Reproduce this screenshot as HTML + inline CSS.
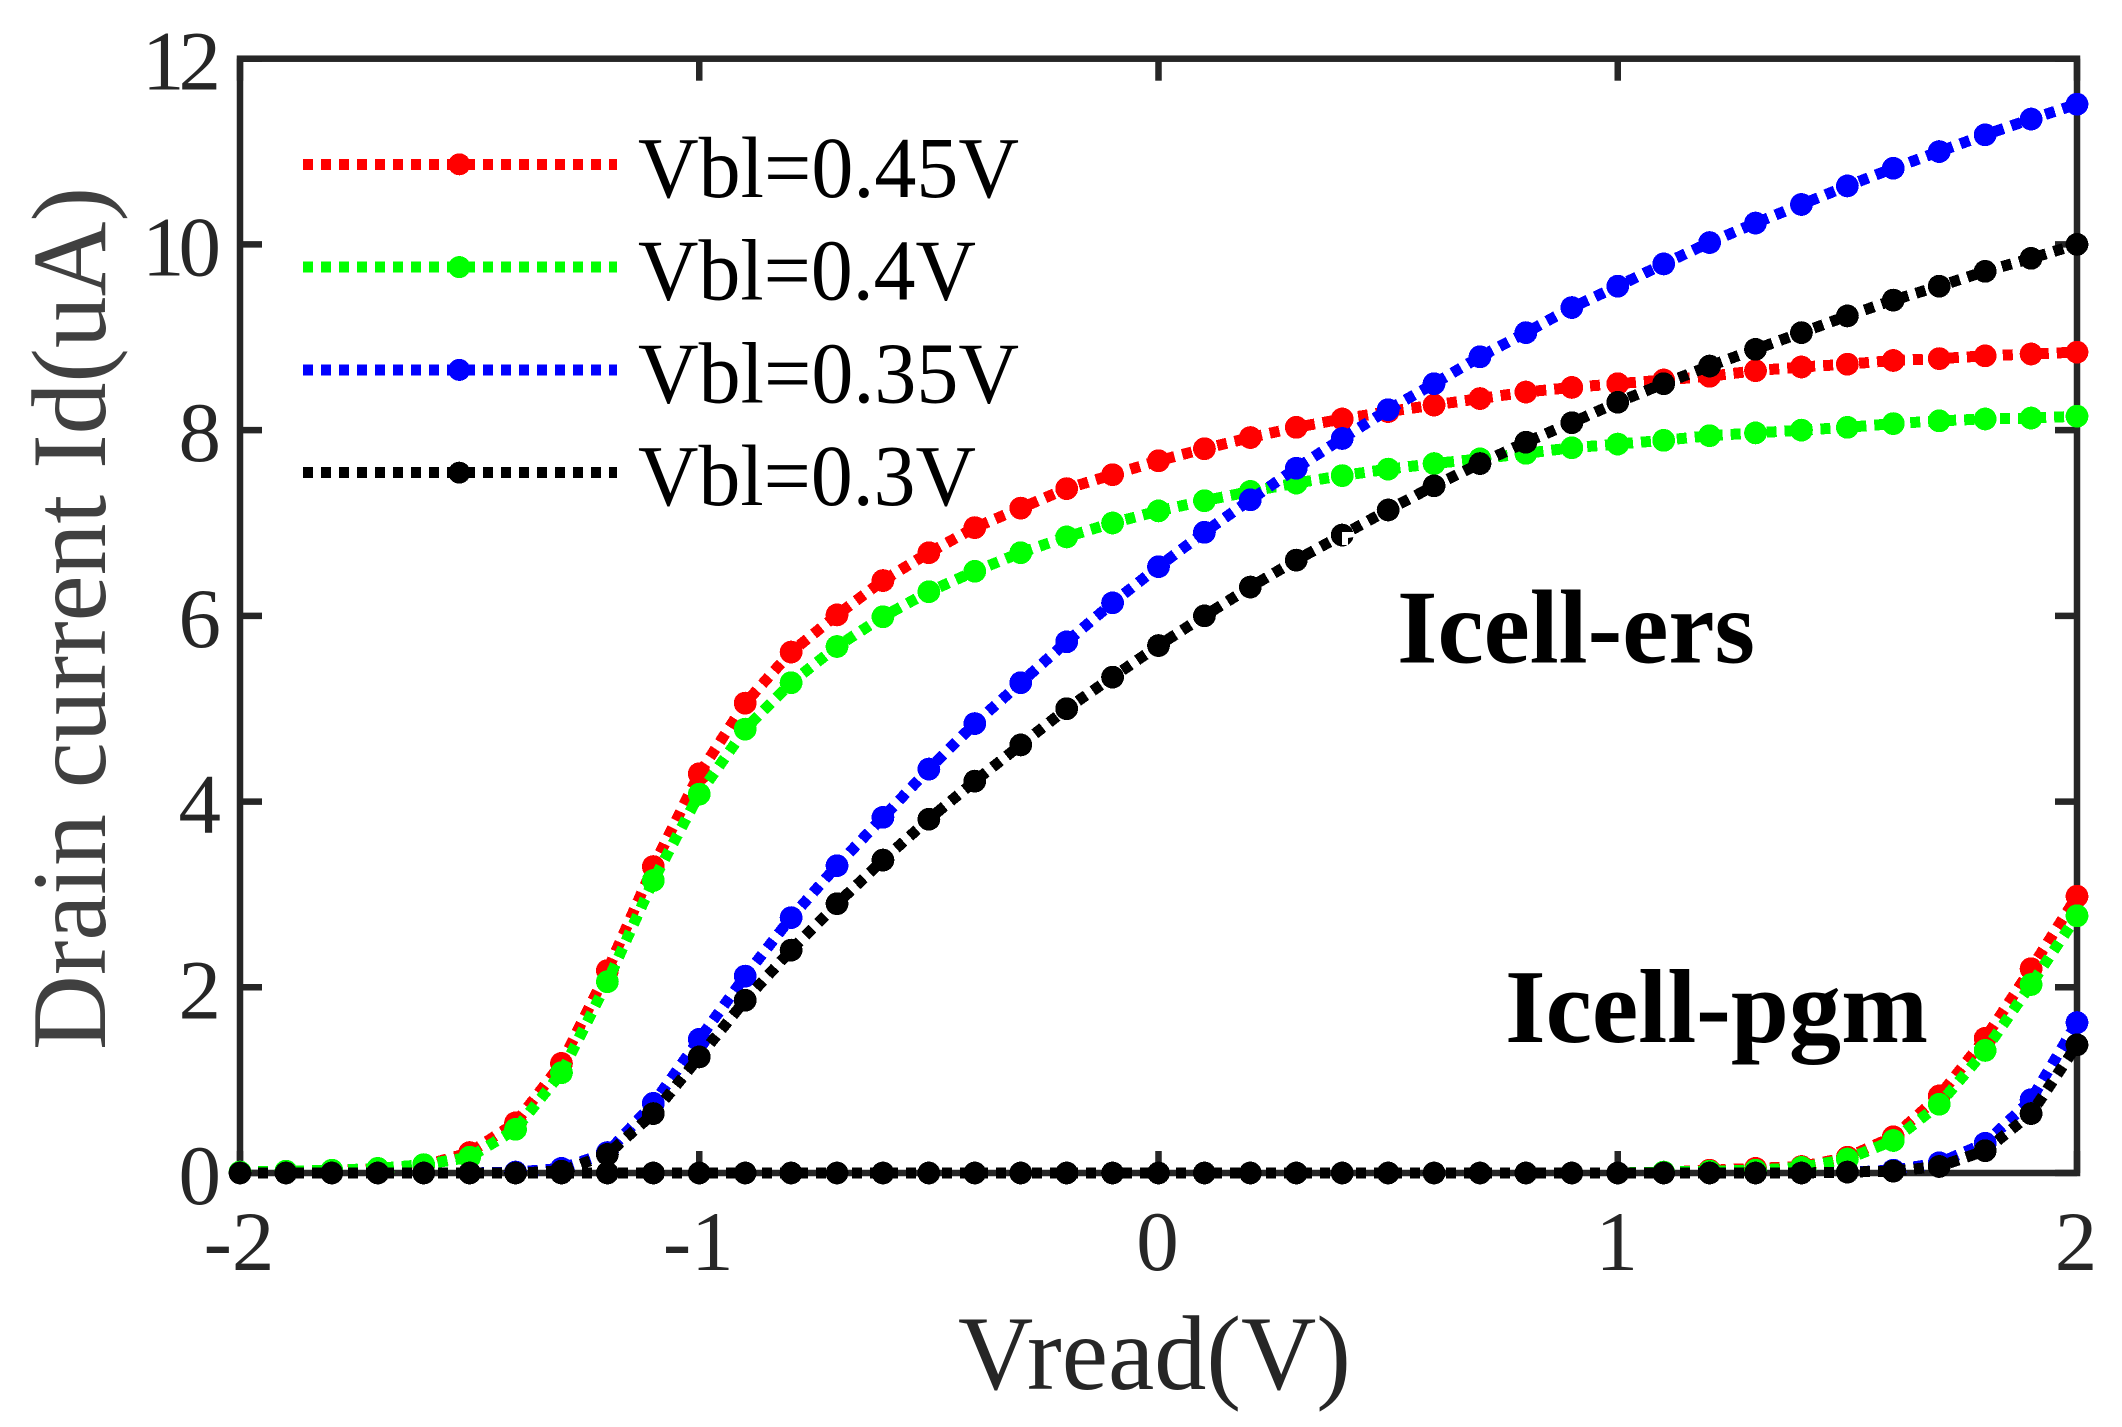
<!DOCTYPE html>
<html lang="en">
<head>
<meta charset="utf-8">
<title>Drain current vs Vread</title>
<style>
html,body{margin:0;padding:0;background:#fff;width:2122px;height:1427px;overflow:hidden}
svg{display:block}
text{font-family:"Liberation Serif",serif}
</style>
</head>
<body>
<svg id="chart" xmlns="http://www.w3.org/2000/svg" width="2122" height="1427" viewBox="0 0 2122 1427">
  <rect x="0" y="0" width="2122" height="1427" fill="#fff"/>
  <g id="curves"></g>
  <rect id="frame" x="240" y="58.7" width="1837" height="1114.3" fill="none" stroke="#262626" stroke-width="6.5"/>
  <g id="ticks"></g>
  <g id="markers"></g>
  <polygon points="1342,532 1354,532 1354,537 1348,538 1348,545 1342,545" fill="#fff"/>
  <g id="tick-labels"></g>

  <text transform="translate(105,1050) rotate(-90)" font-size="106" fill="#404040" textLength="863" lengthAdjust="spacingAndGlyphs">Drain current Id(uA)</text>
  <text x="958" y="1389" font-size="106" fill="#262626" textLength="393" lengthAdjust="spacingAndGlyphs">Vread(V)</text>

  <text x="1397" y="662.5" font-size="105" font-weight="bold" fill="#000" textLength="358" lengthAdjust="spacingAndGlyphs">Icell-ers</text>
  <text x="1505" y="1042" font-size="105" font-weight="bold" fill="#000" textLength="423" lengthAdjust="spacingAndGlyphs">Icell-pgm</text>

  <g id="legend"></g>
</svg>
<script>
// Axis ranges and ticks
const xTicks = [-2, -1, 0, 1, 2];
const yTicks = [0, 2, 4, 6, 8, 10, 12];

// Shared x values (V)
const vread = [-2,-1.9,-1.8,-1.7,-1.6,-1.5,-1.4,-1.3,-1.2,-1.1,-1,-0.9,-0.8,-0.7,-0.6,-0.5,-0.4,-0.3,-0.2,-0.1,0,0.1,0.2,0.3,0.4,0.5,0.6,0.7,0.8,0.9,1,1.1,1.2,1.3,1.4,1.5,1.6,1.7,1.8,1.9,2];

// Erased-cell currents (uA)
const redErs = [0,0.01,0.02,0.05,0.08,0.22,0.54,1.18,2.18,3.30,4.30,5.06,5.61,6.01,6.38,6.68,6.95,7.16,7.37,7.52,7.67,7.80,7.92,8.03,8.12,8.20,8.27,8.34,8.41,8.46,8.50,8.54,8.58,8.64,8.68,8.71,8.75,8.77,8.80,8.82,8.84];
const greenErs = [0.01,0.02,0.03,0.05,0.09,0.17,0.47,1.08,2.06,3.15,4.08,4.78,5.28,5.67,5.99,6.26,6.48,6.68,6.85,7.00,7.13,7.24,7.34,7.43,7.51,7.58,7.64,7.69,7.75,7.81,7.85,7.89,7.94,7.97,8.00,8.03,8.07,8.10,8.12,8.13,8.15];
const blueErs = [0,0,0,0,0,0,0.01,0.05,0.22,0.75,1.44,2.12,2.75,3.31,3.83,4.35,4.84,5.28,5.72,6.14,6.53,6.90,7.25,7.59,7.91,8.22,8.50,8.79,9.05,9.32,9.55,9.79,10.02,10.23,10.43,10.63,10.82,11.00,11.18,11.35,11.51];
const blackErs = [0,0,0,0,0,0,0,0.02,0.20,0.64,1.25,1.86,2.40,2.90,3.37,3.81,4.22,4.61,5.00,5.34,5.68,6.00,6.31,6.60,6.87,7.14,7.40,7.64,7.87,8.08,8.30,8.50,8.69,8.87,9.05,9.23,9.40,9.55,9.71,9.85,10.00];

// Programmed-cell currents (uA)
const redPgm = [0,0,0,0,0,0,0,0,0,0,0,0,0,0,0,0,0,0,0,0,0,0,0,0,0,0,0,0,0,0,0,0.01,0.03,0.05,0.07,0.17,0.39,0.83,1.45,2.20,2.98];
const greenPgm = [0,0,0,0,0,0,0,0,0,0,0,0,0,0,0,0,0,0,0,0,0,0,0,0,0,0,0,0,0,0,0,0.01,0.02,0.03,0.06,0.15,0.35,0.74,1.32,2.03,2.77];
const bluePgm = [0,0,0,0,0,0,0,0,0,0,0,0,0,0,0,0,0,0,0,0,0,0,0,0,0,0,0,0,0,0,0,0,0,0,0,0.01,0.03,0.11,0.32,0.79,1.62];
const blackPgm = [0,0,0,0,0,0,0,0,0,0,0,0,0,0,0,0,0,0,0,0,0,0,0,0,0,0,0,0,0,0,0,0,0,0,0,0.01,0.02,0.07,0.24,0.64,1.38];

const seriesLabels = ['Vbl=0.45V','Vbl=0.4V','Vbl=0.35V','Vbl=0.3V'];
const seriesKeys = ['vbl-045','vbl-04','vbl-035','vbl-03'];
const seriesColors = ['#ff0000','#00ff00','#0000ff','#000000'];
const ersCurves = [redErs, greenErs, blueErs, blackErs];
const pgmCurves = [redPgm, greenPgm, bluePgm, blackPgm];

const NS = 'http://www.w3.org/2000/svg';
const plot = {left:240, right:2077, top:58.7, bottom:1173, xMin:-2, xMax:2, yMin:0, yMax:12};
function xScale(v){ return plot.left + (v - plot.xMin) / (plot.xMax - plot.xMin) * (plot.right - plot.left); }
function yScale(v){ return plot.bottom - (v - plot.yMin) / (plot.yMax - plot.yMin) * (plot.bottom - plot.top); }
function mk(tag, parent){ const e = document.createElementNS(NS, tag); parent.appendChild(e); return e; }

const gCurves = document.getElementById('curves');
const gMarkers = document.getElementById('markers');
const gTicks = document.getElementById('ticks');
const gLabels = document.getElementById('tick-labels');
const gLegend = document.getElementById('legend');

function drawCurve(values, color, name){
  const line = mk('polyline', gCurves);
  
  
  line.setAttribute('points', values.map((v,i) => xScale(vread[i]).toFixed(2) + ',' + yScale(v).toFixed(2)).join(' '));
  line.setAttribute('fill', 'none');
  line.setAttribute('stroke', color);
  line.setAttribute('stroke-width', '11');
  line.setAttribute('stroke-dasharray', '10 8');
  line.setAttribute('stroke-linejoin', 'miter');
  line.setAttribute('shape-rendering', 'crispEdges');
  values.forEach((v,i) => {
    const c = mk('circle', gCurves);
    
    
    c.setAttribute('cx', xScale(vread[i]).toFixed(2));
    c.setAttribute('cy', yScale(v).toFixed(2));
    c.setAttribute('r', '11.4');
    c.setAttribute('fill', color);
    c.setAttribute('shape-rendering', 'crispEdges');
  });
}
seriesColors.forEach((color, s) => drawCurve(ersCurves[s], color, seriesKeys[s] + '-ers'));
seriesColors.forEach((color, s) => drawCurve(pgmCurves[s], color, seriesKeys[s] + '-pgm'));

// Place the frame and ticks under the curves so markers overlap the axes
const svg = document.getElementById('chart');
svg.insertBefore(document.getElementById('frame'), gCurves);
svg.insertBefore(gTicks, gCurves);

function tickLine(x1, y1, x2, y2, name){
  const t = mk('line', gTicks);
  
  
  t.setAttribute('x1', x1); t.setAttribute('y1', y1);
  t.setAttribute('x2', x2); t.setAttribute('y2', y2);
  t.setAttribute('stroke', '#262626');
  t.setAttribute('stroke-width', '6.5');
}
xTicks.forEach(v => {
  const x = xScale(v);
  tickLine(x, plot.bottom, x, plot.bottom - 22, 'x-tick');
  tickLine(x, plot.top, x, plot.top + 22, 'x-tick-top');
  const lab = mk('text', gLabels);
  
  
  lab.setAttribute('x', x - 1);
  lab.setAttribute('y', 1270);
  lab.setAttribute('font-size', '85');
  lab.setAttribute('fill', '#262626');
  lab.setAttribute('text-anchor', 'middle');
  lab.textContent = String(v);
});
yTicks.forEach(v => {
  const y = yScale(v);
  tickLine(plot.left, y, plot.left + 22, y, 'y-tick');
  tickLine(plot.right, y, plot.right - 22, y, 'y-tick-right');
  const twoDigit = String(v).length > 1;
  const lab = mk('text', gLabels);
  
  
  lab.setAttribute('x', twoDigit ? 215 : 221);
  lab.setAttribute('y', y + 31);
  lab.setAttribute('font-size', '85');
  lab.setAttribute('fill', '#262626');
  lab.setAttribute('text-anchor', 'end');
  lab.setAttribute('letter-spacing', twoDigit ? '-6' : '0');
  lab.textContent = String(v);
});

seriesLabels.forEach((label, s) => {
  const rowY = 164.3 + s * 102.8;
  const sw = mk('line', gLegend);
  
  
  sw.setAttribute('x1', 303); sw.setAttribute('y1', rowY);
  sw.setAttribute('x2', 617); sw.setAttribute('y2', rowY);
  sw.setAttribute('stroke', seriesColors[s]);
  sw.setAttribute('stroke-width', '11');
  sw.setAttribute('stroke-dasharray', '10 8');
  sw.setAttribute('shape-rendering', 'crispEdges');
  const dot = mk('circle', gLegend);
  
  
  dot.setAttribute('cx', 459.3);
  dot.setAttribute('cy', rowY);
  dot.setAttribute('r', '11');
  dot.setAttribute('fill', seriesColors[s]);
  dot.setAttribute('shape-rendering', 'crispEdges');
  const txt = mk('text', gLegend);
  
  
  txt.setAttribute('x', 638);
  txt.setAttribute('y', rowY + 32.5);
  txt.setAttribute('font-size', '87');
  txt.setAttribute('fill', '#000');
  txt.setAttribute('textLength', label.length === 9 ? '381' : '338');
  txt.setAttribute('lengthAdjust', 'spacingAndGlyphs');
  txt.textContent = label;
});
</script>
</body>
</html>
